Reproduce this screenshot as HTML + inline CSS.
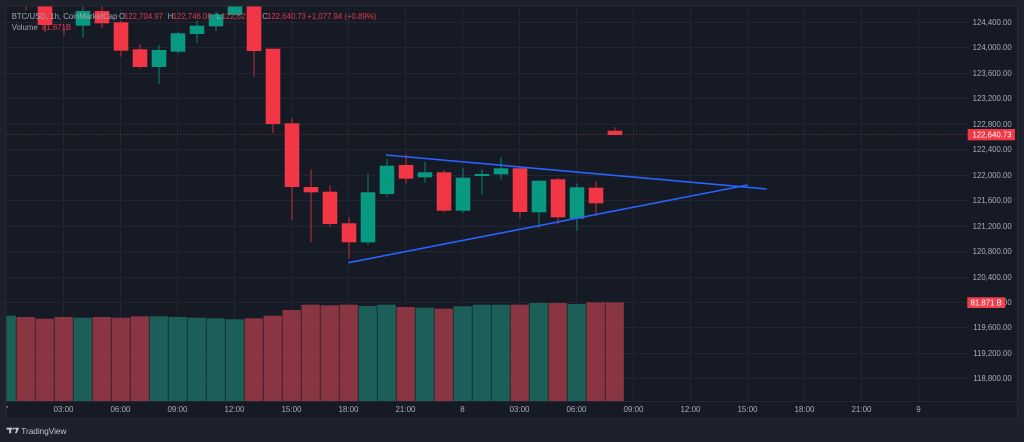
<!DOCTYPE html>
<html><head><meta charset="utf-8"><style>
html,body{margin:0;padding:0;background:#1e212b;width:1024px;height:442px;overflow:hidden}
svg{display:block}
text{font-family:"Liberation Sans",Arial,sans-serif}
</style></head><body>
<svg width="1024" height="442" viewBox="0 0 1024 442" xmlns="http://www.w3.org/2000/svg">
<defs><clipPath id="pc"><rect x="6.5" y="6.5" width="961.5" height="394.5"/></clipPath>
<clipPath id="tc"><rect x="6.5" y="401" width="1010.5" height="17"/></clipPath></defs>
<rect x="0" y="0" width="1024" height="442" fill="#1e212b"/>
<rect x="6" y="6" width="1011.5" height="412.5" fill="#161a25" stroke="#262a35" stroke-width="1"/>
<!-- grid -->
<g stroke="#212531" stroke-width="1">
<line x1="6.5" x2="968" y1="22.5" y2="22.5"/><line x1="6.5" x2="968" y1="47.5" y2="47.5"/><line x1="6.5" x2="968" y1="73.5" y2="73.5"/><line x1="6.5" x2="968" y1="98.5" y2="98.5"/><line x1="6.5" x2="968" y1="124.5" y2="124.5"/><line x1="6.5" x2="968" y1="149.5" y2="149.5"/><line x1="6.5" x2="968" y1="175.5" y2="175.5"/><line x1="6.5" x2="968" y1="200.5" y2="200.5"/><line x1="6.5" x2="968" y1="226.5" y2="226.5"/><line x1="6.5" x2="968" y1="251.5" y2="251.5"/><line x1="6.5" x2="968" y1="277.5" y2="277.5"/><line x1="6.5" x2="968" y1="302.5" y2="302.5"/><line x1="6.5" x2="968" y1="327.5" y2="327.5"/><line x1="6.5" x2="968" y1="353.5" y2="353.5"/><line x1="6.5" x2="968" y1="378.5" y2="378.5"/>
<line x1="63.5" x2="63.5" y1="6.5" y2="401"/><line x1="120.5" x2="120.5" y1="6.5" y2="401"/><line x1="177.5" x2="177.5" y1="6.5" y2="401"/><line x1="234.5" x2="234.5" y1="6.5" y2="401"/><line x1="291.5" x2="291.5" y1="6.5" y2="401"/><line x1="348.5" x2="348.5" y1="6.5" y2="401"/><line x1="405.5" x2="405.5" y1="6.5" y2="401"/><line x1="462.5" x2="462.5" y1="6.5" y2="401"/><line x1="519.5" x2="519.5" y1="6.5" y2="401"/><line x1="576.5" x2="576.5" y1="6.5" y2="401"/><line x1="633.5" x2="633.5" y1="6.5" y2="401"/><line x1="690.5" x2="690.5" y1="6.5" y2="401"/><line x1="747.5" x2="747.5" y1="6.5" y2="401"/><line x1="804.5" x2="804.5" y1="6.5" y2="401"/><line x1="861.5" x2="861.5" y1="6.5" y2="401"/><line x1="918.5" x2="918.5" y1="6.5" y2="401"/>
</g>
<g clip-path="url(#pc)">
<!-- volume -->
<g>
<rect x="-2.45" y="315.7" width="18.3" height="85.3" fill="#1c5f58"/>
<rect x="16.55" y="317" width="18.3" height="84" fill="#8a3542"/>
<rect x="35.55" y="318.7" width="18.3" height="82.3" fill="#8a3542"/>
<rect x="54.55" y="317" width="18.3" height="84" fill="#8a3542"/>
<rect x="73.55" y="317.7" width="18.3" height="83.3" fill="#1c5f58"/>
<rect x="92.55" y="317" width="18.3" height="84" fill="#8a3542"/>
<rect x="111.55" y="317.7" width="18.3" height="83.3" fill="#8a3542"/>
<rect x="130.55" y="316.3" width="18.3" height="84.7" fill="#8a3542"/>
<rect x="149.55" y="316.3" width="18.3" height="84.7" fill="#1c5f58"/>
<rect x="168.55" y="317" width="18.3" height="84" fill="#1c5f58"/>
<rect x="187.55" y="317.7" width="18.3" height="83.3" fill="#1c5f58"/>
<rect x="206.55" y="318.3" width="18.3" height="82.7" fill="#1c5f58"/>
<rect x="225.55" y="319.3" width="18.3" height="81.7" fill="#1c5f58"/>
<rect x="244.55" y="318.3" width="18.3" height="82.7" fill="#8a3542"/>
<rect x="263.55" y="315.7" width="18.3" height="85.3" fill="#8a3542"/>
<rect x="282.55" y="310" width="18.3" height="91" fill="#8a3542"/>
<rect x="301.55" y="304.7" width="18.3" height="96.3" fill="#8a3542"/>
<rect x="320.55" y="305.3" width="18.3" height="95.7" fill="#8a3542"/>
<rect x="339.55" y="304.7" width="18.3" height="96.3" fill="#8a3542"/>
<rect x="358.55" y="306" width="18.3" height="95" fill="#1c5f58"/>
<rect x="377.55" y="304.7" width="18.3" height="96.3" fill="#1c5f58"/>
<rect x="396.55" y="307" width="18.3" height="94" fill="#8a3542"/>
<rect x="415.55" y="307.7" width="18.3" height="93.3" fill="#1c5f58"/>
<rect x="434.55" y="308.7" width="18.3" height="92.3" fill="#8a3542"/>
<rect x="453.55" y="306.3" width="18.3" height="94.7" fill="#1c5f58"/>
<rect x="472.55" y="304.7" width="18.3" height="96.3" fill="#1c5f58"/>
<rect x="491.55" y="304.7" width="18.3" height="96.3" fill="#1c5f58"/>
<rect x="510.55" y="304.7" width="18.3" height="96.3" fill="#8a3542"/>
<rect x="529.55" y="303" width="18.3" height="98" fill="#1c5f58"/>
<rect x="548.55" y="303" width="18.3" height="98" fill="#8a3542"/>
<rect x="567.55" y="304" width="18.3" height="97" fill="#1c5f58"/>
<rect x="586.55" y="302.3" width="18.3" height="98.7" fill="#8a3542"/>
<rect x="605.55" y="302.3" width="18.3" height="98.7" fill="#8a3542"/>
</g>
<!-- last price line -->
<line x1="6.5" x2="968" y1="134.5" y2="134.5" stroke="#f23645" stroke-opacity="0.55" stroke-dasharray="1 2" stroke-width="1"/>
<!-- wicks -->
<g stroke-width="1.2">
<g stroke="#a32d39">
<line x1="26" x2="26" y1="6" y2="10"/><line x1="45" x2="45" y1="6" y2="32"/><line x1="64" x2="64" y1="26" y2="35"/><line x1="102" x2="102" y1="6" y2="28"/><line x1="121" x2="121" y1="21" y2="56.7"/><line x1="140" x2="140" y1="44.3" y2="68.7"/><line x1="254" x2="254" y1="6" y2="76.7"/><line x1="273" x2="273" y1="48.7" y2="133.3"/><line x1="292" x2="292" y1="118.3" y2="220"/><line x1="311" x2="311" y1="169.3" y2="242.3"/><line x1="330" x2="330" y1="185.7" y2="226.7"/><line x1="349" x2="349" y1="217.3" y2="258.7"/><line x1="406" x2="406" y1="154.3" y2="183.3"/><line x1="444" x2="444" y1="170" y2="212.3"/><line x1="520" x2="520" y1="167.7" y2="218.3"/><line x1="558" x2="558" y1="177.7" y2="224.3"/><line x1="596" x2="596" y1="181" y2="216"/><line x1="615" x2="615" y1="127.3" y2="135"/>
</g>
<g stroke="#0b7565">
<line x1="83" x2="83" y1="6" y2="37.7"/><line x1="159" x2="159" y1="45" y2="84"/><line x1="178" x2="178" y1="31.7" y2="53.3"/><line x1="197" x2="197" y1="20.7" y2="43.3"/><line x1="216" x2="216" y1="11.7" y2="31"/><line x1="368" x2="368" y1="173.3" y2="244.3"/><line x1="387" x2="387" y1="159" y2="196.7"/><line x1="425" x2="425" y1="161.7" y2="182.7"/><line x1="463" x2="463" y1="167.7" y2="213.3"/><line x1="482" x2="482" y1="169" y2="194.3"/><line x1="501" x2="501" y1="157.3" y2="179.3"/><line x1="539" x2="539" y1="180" y2="228.3"/><line x1="577" x2="577" y1="183.3" y2="230.7"/>
</g>
</g>
<!-- bodies -->
<g fill="#f23645">
<rect x="37.7" y="5" width="14.6" height="20"/>
<rect x="94.7" y="11" width="14.6" height="12.3"/>
<rect x="113.7" y="22.3" width="14.6" height="28.4"/>
<rect x="132.7" y="49.3" width="14.6" height="17.7"/>
<rect x="246.7" y="5" width="14.6" height="46"/>
<rect x="265.7" y="48.7" width="14.6" height="75.3"/>
<rect x="284.7" y="123.3" width="14.6" height="63.7"/>
<rect x="303.7" y="187" width="14.6" height="5.3"/>
<rect x="322.7" y="191.7" width="14.6" height="32.3"/>
<rect x="341.7" y="223.3" width="14.6" height="19"/>
<rect x="398.7" y="165" width="14.6" height="13.7"/>
<rect x="436.7" y="172.3" width="14.6" height="38.4"/>
<rect x="512.7" y="168.3" width="14.6" height="43.7"/>
<rect x="550.7" y="179.3" width="14.6" height="38"/>
<rect x="588.7" y="187.7" width="14.6" height="15.6"/>
<rect x="607.7" y="130.7" width="14.6" height="4.3"/>
</g>
<g fill="#089981">
<rect x="75.7" y="11" width="14.6" height="14.7"/>
<rect x="151.7" y="50" width="14.6" height="17"/>
<rect x="170.7" y="33.3" width="14.6" height="18.4"/>
<rect x="189.7" y="25.7" width="14.6" height="8.3"/>
<rect x="208.7" y="14.3" width="14.6" height="12"/>
<rect x="227.7" y="5" width="14.6" height="10"/>
<rect x="360.7" y="192.3" width="14.6" height="50"/>
<rect x="379.7" y="165.7" width="14.6" height="28.3"/>
<rect x="417.7" y="172.3" width="14.6" height="5"/>
<rect x="455.7" y="177.7" width="14.6" height="33"/>
<rect x="474.7" y="174" width="14.6" height="2"/>
<rect x="493.7" y="168.3" width="14.6" height="6"/>
<rect x="531.7" y="180.7" width="14.6" height="31.6"/>
<rect x="569.7" y="187.3" width="14.6" height="31.4"/>
</g>
<!-- triangle -->
<line x1="386" y1="155" x2="766.7" y2="189" stroke="#2962ff" stroke-width="1.6"/>
<line x1="348.3" y1="262.7" x2="747.7" y2="185" stroke="#2962ff" stroke-width="1.6"/>
</g>
<!-- legend (on top of candles) -->
<g font-size="7.8">
<text x="11.7" y="19" fill="#a3a6af">BTC/USD, 1h, CoinMarketCap</text>
<text y="19" fill="#a3a6af"><tspan x="119">O</tspan><tspan x="167.7">H</tspan><tspan x="216.7">L</tspan><tspan x="262.3">C</tspan></text>
<text y="19" fill="#e23a48"><tspan x="124">122,704.97</tspan><tspan x="172.7">122,746.06</tspan><tspan x="221.5">122,627.11</tspan><tspan x="267">122,640.73</tspan><tspan x="307.3">+1,077.94 (+0.89%)</tspan></text>
<text x="11.7" y="30" fill="#a3a6af">Volume</text>
<text x="42" y="30" fill="#e23a48">81.871B</text>
</g>
<!-- axis separators -->
<line x1="6.5" x2="1017" y1="401.5" y2="401.5" stroke="#232734" stroke-width="1"/>
<!-- price axis -->
<g font-size="7.8" fill="#a9acb5" text-anchor="end">
<text x="1011.7" y="24.8">124,400.00</text>
<text x="1011.7" y="49.8">124,000.00</text>
<text x="1011.7" y="75.8">123,600.00</text>
<text x="1011.7" y="100.8">123,200.00</text>
<text x="1011.7" y="126.8">122,800.00</text>
<text x="1011.7" y="151.8">122,400.00</text>
<text x="1011.7" y="177.8">122,000.00</text>
<text x="1011.7" y="202.8">121,600.00</text>
<text x="1011.7" y="228.8">121,200.00</text>
<text x="1011.7" y="253.8">120,800.00</text>
<text x="1011.7" y="279.8">120,400.00</text>
<text x="1011.7" y="304.8">120,000.00</text>
<text x="1011.7" y="329.8">119,600.00</text>
<text x="1011.7" y="355.8">119,200.00</text>
<text x="1011.7" y="380.8">118,800.00</text>
</g>
<rect x="967.7" y="129" width="47.3" height="11.3" fill="#f23645"/>
<text x="1011.5" y="137.5" font-size="7.8" fill="#ffffff" text-anchor="end">122,640.73</text>
<rect x="967.3" y="297.3" width="38" height="10.7" fill="#f0404f"/>
<text x="1001.8" y="305.6" font-size="7.8" fill="#ffffff" text-anchor="end">81.871 B</text>
<!-- time axis -->
<g font-size="8" fill="#a9acb5" text-anchor="middle" clip-path="url(#tc)">
<text x="6" y="412">7</text>
<text x="63.5" y="412">03:00</text><text x="120.5" y="412">06:00</text><text x="177.5" y="412">09:00</text><text x="234.5" y="412">12:00</text><text x="291.5" y="412">15:00</text><text x="348.5" y="412">18:00</text><text x="405.5" y="412">21:00</text><text x="462.5" y="412">8</text><text x="519.5" y="412">03:00</text><text x="576.5" y="412">06:00</text><text x="633.5" y="412">09:00</text><text x="690.5" y="412">12:00</text><text x="747.5" y="412">15:00</text><text x="804.5" y="412">18:00</text><text x="861.5" y="412">21:00</text><text x="918.5" y="412">9</text>
</g>
<!-- footer -->
<g fill="#c4c7cf">
<rect x="6.5" y="427.7" width="5.6" height="1.9"/>
<rect x="9.2" y="427.7" width="2" height="5.6"/>
<circle cx="13.6" cy="428.6" r="1"/>
<polygon points="14.6,427.7 19.2,427.7 16.6,433.3 14.8,433.3 16.2,430.2"/>
</g>
<text x="21.3" y="434" font-size="8.2" fill="#c4c7cf">TradingView</text>
</svg>
</body></html>
